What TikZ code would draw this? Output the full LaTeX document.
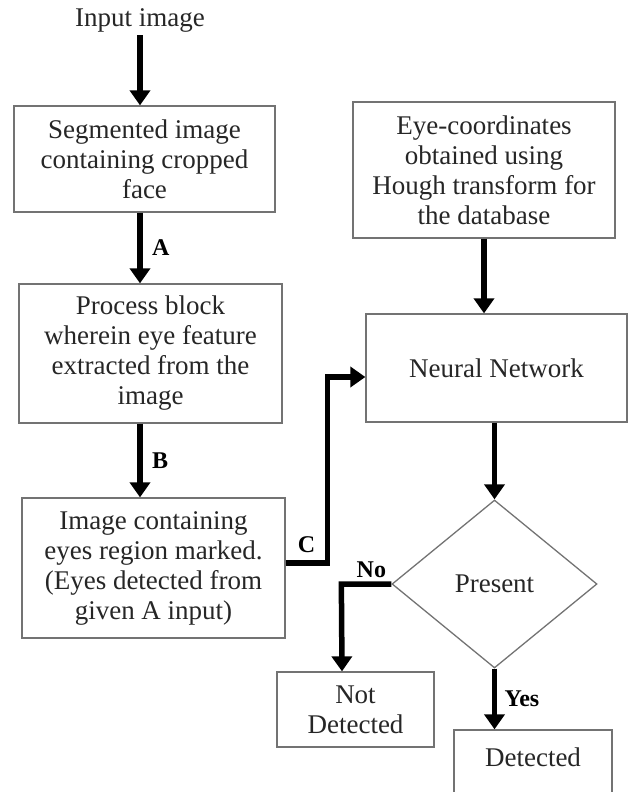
\documentclass[tikz,border=0pt]{standalone}
\usepackage{fontspec}
\setmainfont{Liberation Serif}
\usetikzlibrary{arrows.meta,shapes.geometric}
\begin{document}
\begin{tikzpicture}[x=1pt,y=-1pt,
    every node/.style={font=\fontsize{27}{30}\selectfont, text=black!85},
    box/.style={draw=black!55, line width=1.3pt, align=center, inner sep=0pt},
    arr/.style={line width=5.5pt, -{Triangle[length=15pt,width=20pt]}},
    lbl/.style={font=\fontsize{24}{26}\selectfont\bfseries, text=black}]
    \clip (0,0) rectangle (629,792);
    \node (input) at (140,20) {Input image};
    \node[box, minimum width=261pt, minimum height=106pt] (seg) at (144.5,159) {Segmented image\\containing cropped\\face};
    \node[box, minimum width=263pt, minimum height=139pt] (proc) at (150.5,353.5) {Process block\\wherein eye feature\\extracted from the\\image};
    \node[box, minimum width=263pt, minimum height=140pt] (img) at (153.5,568) {Image containing\\eyes region marked.\\(Eyes detected from\\given A input)};
    \node[box, minimum width=262pt, minimum height=136pt] (eye) at (484,170) {Eye-coordinates\\obtained using\\Hough transform for\\the database};
    \node[box, minimum width=261pt, minimum height=108pt] (nn) at (496.5,368) {Neural Network};
    \node[box, diamond, minimum width=205pt, minimum height=168pt] (dec) at (494.5,584) {Present};
    \node[box, minimum width=157pt, minimum height=75pt] (notdet) at (355.5,709.5) {Not\\Detected};
    \node[box, minimum width=158pt, minimum height=75pt, text depth=20pt] (det) at (533,767.5) {Detected};
    \draw[arr] (input) -- (seg.north -| input);
    \draw[arr] (seg.south -| input) -- node[lbl, right=6pt] {A} (proc.north -| input);
    \draw[arr] (proc.south -| input) -- node[lbl, right=6pt] {B} (img.north -| input);
    \draw[arr] ([yshift=5pt]img.east) -- node[lbl, above=4pt] {C} ++(42,0) |- ([yshift=-9pt]nn.west);
    \draw[arr] (eye.south) -- (eye.south |- nn.north);
    \draw[arr] (nn.south -| dec.north) -- (dec.north);
    \draw[arr] (dec.west) -- node[lbl, above, pos=0.4] {No} ++(-50,0) -- ([xshift=-13.5pt]notdet.north);
    \draw[arr] (dec.south) -- node[lbl, right=4pt] {Yes} (dec.south |- det.north);
\end{tikzpicture}
\end{document}
